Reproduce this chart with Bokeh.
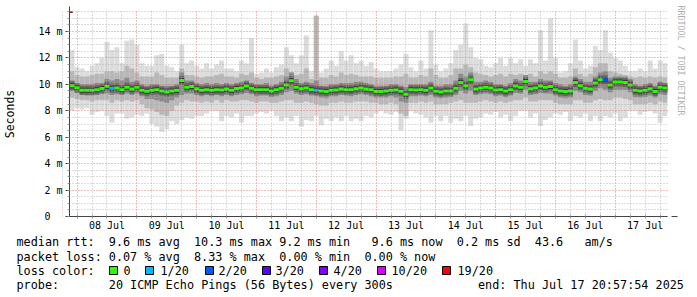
import numpy as np
import pandas as pd
from bokeh.plotting import figure
from bokeh.layouts import column
from bokeh.models import (Range1d, FixedTicker, DatetimeTickFormatter, Title,
                          Arrow, NormalHead, ColumnDataSource)
from bokeh.core.properties import value
from bokeh.embed import file_html
from bokeh.resources import INLINE

# ------------------------------------------------------------------ data
END_TIME = "2025-07-17 20:57:54"
FIRST_BIN = "2025-07-07 21:00"
BIN_HOURS = 2

median_ms = [
    9.9, 9.75, 9.56, 9.56, 9.56, 9.6, 9.68, 9.85, 9.7, 9.72,
    9.6, 9.78, 9.65, 9.78, 9.56, 9.48, 9.56, 9.6, 9.5, 9.43,
    9.5, 9.56, 10.3, 9.78, 9.83, 9.66, 9.56, 9.6, 9.56, 9.6,
    9.58, 9.65, 9.56, 9.68, 9.72, 9.87, 9.7, 9.6, 9.6, 9.6,
    9.5, 9.6, 9.7, 9.95, 10.27, 9.78, 9.67, 9.72, 9.6, 9.56,
    9.5, 9.46, 9.56, 9.58, 9.65, 9.6, 9.6, 9.66, 9.72, 9.65,
    9.6, 9.46, 9.46, 9.5, 9.56, 9.58, 9.48, 9.26, 9.6, 9.58,
    9.6, 9.56, 9.72, 9.48, 9.43, 9.5, 9.5, 9.7, 10.15, 9.9,
    10.35, 9.65, 9.72, 9.78, 9.72, 9.58, 9.6, 9.5, 9.6, 9.87,
    9.78, 10.22, 9.67, 9.72, 9.87, 9.78, 9.83, 9.6, 9.5, 9.46,
    9.5, 10.15, 9.9, 9.7, 9.65, 10.1, 10.35, 10.35, 9.95, 10.17,
    10.17, 10.15, 9.95, 9.56, 9.5, 9.56, 9.66, 9.46, 9.78, 9.72,
]
max_ms = [
    12.6, 11.3, 11.2, 11.0, 11.4, 11.6, 12.0, 13.2, 12.6, 12.8,
    11.6, 13.3, 13.4, 13.0, 11.6, 11.4, 11.4, 12.2, 12.3, 11.4,
    11.3, 11.0, 13.0, 11.6, 11.8, 11.4, 11.2, 11.6, 11.2, 11.5,
    11.8, 11.2, 11.2, 11.0, 11.8, 11.6, 13.5, 10.8, 10.9, 11.2,
    10.9, 11.3, 11.5, 12.8, 12.2, 11.6, 12.2, 13.7, 11.0, 15.2,
    10.9, 11.2, 11.8, 11.4, 12.5, 11.8, 12.2, 11.6, 11.8, 11.4,
    11.7, 11.2, 11.0, 11.0, 11.0, 11.2, 11.5, 12.3, 11.3, 11.0,
    11.8, 11.2, 14.1, 11.5, 11.0, 11.2, 11.6, 12.6, 13.0, 14.6,
    12.8, 12.0, 11.9, 11.4, 11.3, 11.6, 12.0, 11.4, 12.0, 11.6,
    11.9, 11.4, 11.9, 11.6, 14.1, 11.8, 15.0, 12.0, 10.9, 11.0,
    11.6, 13.4, 11.8, 11.2, 11.4, 12.9, 12.6, 14.1, 12.4, 12.0,
    11.8, 11.4, 11.0, 11.0, 11.2, 11.0, 11.8, 11.2, 11.8, 11.6,
]
p90_ms = [
    11.0, 10.7, 10.6, 10.6, 10.7, 10.8, 10.8, 11.0, 11.0, 10.9,
    11.0, 11.4, 11.2, 10.9, 10.6, 10.6, 10.6, 10.9, 10.7, 10.5,
    10.5, 10.5, 11.2, 10.7, 10.7, 10.6, 10.5, 10.6, 10.6, 10.7,
    10.8, 10.6, 10.6, 10.5, 10.8, 10.7, 10.9, 10.5, 10.4, 10.5,
    10.5, 10.6, 10.7, 11.2, 10.9, 10.7, 10.8, 11.2, 10.4, 15.2,
    10.5, 10.5, 10.7, 10.6, 10.9, 10.7, 10.8, 10.7, 10.6, 10.6,
    10.6, 10.5, 10.5, 10.5, 10.5, 10.6, 10.6, 10.8, 10.5, 10.5,
    10.7, 10.6, 11.2, 10.7, 10.5, 10.5, 10.7, 11.2, 11.2, 11.5,
    11.3, 10.9, 10.8, 10.7, 10.6, 10.7, 10.8, 10.6, 10.8, 10.7,
    10.8, 10.7, 10.8, 10.6, 11.0, 10.8, 11.0, 10.8, 10.5, 10.5,
    10.6, 11.2, 10.8, 10.6, 10.8, 11.3, 11.6, 11.6, 11.0, 10.9,
    10.8, 10.7, 10.6, 10.5, 10.6, 10.5, 10.6, 10.5, 10.6, 10.5,
]
p75_ms = [
    10.3, 10.1, 10.0, 10.0, 10.0, 10.1, 10.1, 10.4, 10.3, 10.4,
    10.3, 10.5, 10.2, 10.3, 10.0, 9.9, 10.0, 10.0, 9.9, 9.9,
    9.9, 10.0, 10.9, 10.3, 10.3, 10.1, 10.0, 10.1, 10.0, 10.1,
    10.0, 10.1, 10.0, 10.1, 10.2, 10.3, 10.1, 10.0, 10.0, 10.1,
    9.9, 10.0, 10.2, 10.6, 10.9, 10.4, 10.1, 10.2, 10.1, 10.3,
    9.9, 9.9, 10.0, 10.0, 10.1, 10.1, 10.1, 10.2, 10.2, 10.1,
    10.0, 9.9, 9.9, 9.9, 10.0, 10.0, 9.9, 9.8, 10.0, 10.0,
    10.0, 10.0, 10.2, 9.9, 9.9, 10.0, 10.0, 10.3, 10.8, 10.6,
    10.9, 10.2, 10.2, 10.3, 10.2, 10.0, 10.0, 9.9, 10.1, 10.4,
    10.3, 10.7, 10.2, 10.2, 10.4, 10.3, 10.3, 10.1, 10.0, 9.9,
    10.0, 10.6, 10.4, 10.2, 10.2, 10.6, 10.9, 11.0, 10.5, 10.6,
    10.6, 10.6, 10.4, 10.0, 9.9, 10.0, 10.1, 9.9, 10.2, 10.1,
]
p25_ms = [
    9.5, 9.35, 9.2, 9.15, 9.15, 9.2, 9.25, 9.3, 9.2, 9.25,
    9.2, 9.3, 9.2, 9.3, 9.1, 8.9, 8.9, 8.8, 8.7, 8.6,
    8.8, 9.0, 9.2, 9.3, 9.3, 9.2, 9.1, 9.2, 9.1, 9.2,
    9.1, 9.2, 9.1, 9.2, 9.25, 9.35, 9.25, 9.1, 9.15, 9.15,
    9.05, 9.1, 9.2, 9.4, 9.5, 9.3, 9.2, 9.25, 9.15, 9.1,
    9.0, 8.95, 9.1, 9.1, 9.2, 9.15, 9.1, 9.2, 9.25, 9.2,
    9.1, 9.0, 9.0, 9.0, 9.1, 9.0, 8.7, 8.6, 9.1, 9.1,
    9.15, 9.1, 9.2, 9.0, 8.95, 9.0, 9.05, 9.2, 9.5, 9.3,
    9.5, 9.2, 9.25, 9.3, 9.25, 9.1, 9.15, 9.05, 9.15, 9.35,
    9.3, 9.6, 9.2, 9.25, 9.35, 9.3, 9.3, 9.15, 9.0, 8.95,
    9.0, 9.5, 9.4, 9.2, 9.15, 9.5, 9.7, 9.6, 9.4, 9.6,
    9.6, 9.6, 9.4, 9.05, 9.0, 9.05, 9.15, 9.0, 9.25, 9.2,
]
p10_ms = [
    9.0, 8.9, 8.8, 8.8, 8.7, 8.8, 8.8, 8.8, 8.6, 8.8,
    8.7, 8.8, 8.7, 8.8, 8.5, 8.2, 8.1, 7.9, 7.7, 7.6,
    8.0, 8.4, 8.6, 8.8, 8.7, 8.7, 8.6, 8.7, 8.6, 8.8,
    8.6, 8.8, 8.7, 8.7, 8.8, 8.8, 8.7, 8.6, 8.7, 8.7,
    8.6, 8.6, 8.7, 8.8, 8.8, 8.6, 8.6, 8.7, 8.6, 8.5,
    8.4, 8.4, 8.6, 8.6, 8.7, 8.6, 8.6, 8.7, 8.7, 8.7,
    8.6, 8.6, 8.5, 8.5, 8.6, 8.5, 7.8, 7.6, 8.6, 8.6,
    8.7, 8.6, 8.7, 8.5, 8.5, 8.5, 8.6, 8.7, 8.8, 8.6,
    8.6, 8.6, 8.7, 8.8, 8.7, 8.6, 8.7, 8.6, 8.7, 8.8,
    8.8, 9.0, 8.7, 8.7, 8.8, 8.8, 8.8, 8.6, 8.5, 8.5,
    8.5, 8.8, 8.8, 8.6, 8.6, 8.8, 8.9, 8.8, 8.8, 9.0,
    9.0, 8.9, 8.8, 8.5, 8.5, 8.5, 8.6, 8.5, 8.7, 8.6,
]
min_ms = [
    8.0, 8.2, 8.1, 8.2, 7.7, 7.9, 8.0, 7.6, 7.1, 7.8,
    7.8, 7.4, 7.5, 7.7, 7.6, 7.8, 7.0, 6.8, 6.4, 6.6,
    7.2, 7.0, 7.3, 7.5, 7.4, 7.6, 7.6, 7.8, 8.0, 8.0,
    7.2, 7.6, 7.5, 7.8, 7.1, 7.6, 7.6, 7.8, 7.9, 7.8,
    8.0, 7.6, 7.2, 7.5, 7.2, 7.6, 6.8, 7.3, 7.2, 7.6,
    6.9, 7.4, 7.2, 7.5, 7.2, 7.6, 7.2, 7.4, 7.2, 7.6,
    7.5, 7.8, 8.0, 7.8, 7.7, 7.9, 6.5, 7.4, 8.0, 7.8,
    7.7, 7.5, 7.1, 7.6, 7.2, 7.6, 7.1, 7.4, 7.2, 7.6,
    6.85, 7.4, 7.5, 7.8, 7.7, 7.9, 7.5, 7.7, 7.2, 7.6,
    8.0, 8.0, 7.5, 7.8, 6.85, 7.3, 7.5, 7.8, 7.7, 7.9,
    7.2, 7.6, 7.5, 7.8, 7.2, 7.6, 7.2, 7.6, 7.5, 7.8,
    7.2, 7.5, 8.0, 8.0, 7.7, 7.9, 8.0, 7.8, 7.1, 7.6,
]
loss_count = [
    0, 0, 0, 0, 0, 0, 0, 0, 1, 0,
    0, 0, 0, 0, 0, 0, 0, 0, 0, 0,
    0, 0, 0, 0, 0, 0, 0, 0, 0, 0,
    0, 0, 0, 0, 0, 0, 0, 0, 0, 0,
    0, 0, 0, 0, 0, 0, 0, 0, 0, 1,
    0, 0, 0, 0, 0, 0, 0, 0, 0, 0,
    0, 0, 0, 0, 0, 0, 0, 0, 0, 0,
    0, 0, 0, 0, 0, 0, 0, 0, 0, 0,
    0, 0, 0, 0, 0, 0, 0, 0, 0, 0,
    0, 0, 0, 0, 0, 0, 0, 0, 0, 0,
    0, 0, 0, 0, 0, 0, 0, 2, 0, 0,
    0, 0, 0, 0, 0, 0, 0, 0, 0, 0,
]

y_tick_values = [0, 2, 4, 6, 8, 10, 12, 14]
y_tick_labels = ["0\u00a0\u00a0", "2 m", "4 m", "6 m", "8 m", "10 m", "12 m", "14 m"]

loss_levels = [0, 1, 2, 3, 4, 10, 19]
loss_labels = ["0", "1/20", "2/20", "3/20", "4/20", "10/20", "19/20"]
loss_colors = ["#26ff00", "#00b8ff", "#0059ff", "#5e00ff", "#7e00ff", "#dd00ff", "#ff0000"]

legend_line1 = [(0, "median rtt:"), (13, "9.6 ms avg"), (25, "10.3 ms max"), (37, "9.2 ms min"),
                (50, "9.6 ms now"), (62, "0.2 ms sd"), (73, "43.6"), (80, "am/s")]
legend_line2 = [(0, "packet loss:"), (13, "0.07 % avg"), (25, "8.33 % max"), (37, "0.00 % min"),
                (49, "0.00 % now")]
legend_line3 = [(0, "loss color:")]
legend_line4 = [(0, "probe:"), (13, "20 ICMP Echo Pings (56 Bytes) every 300s"),
                (65, "end: Thu Jul 17 20:57:54 2025")]
watermark = "RRDTOOL / TOBI OETIKER"
y_axis_title = "Seconds"

# ------------------------------------------------------------------ layout constants
W, H = 697, 297
MAIN_H = 233                                 # main figure height, legend strip below
FL, FR, FT, FB = 67, 667, 11, 216            # frame edges in canvas px
MONO = "DejaVu Sans Mono"
CHAR_W = 7.1
TEXT_X0 = 16

end_ts = pd.Timestamp(END_TIME)
start_ts = end_ts - pd.Timedelta(days=10)


def to_ms(ts):
    return ts.value / 1e6


bins = pd.date_range(FIRST_BIN, periods=len(median_ms), freq=f"{BIN_HOURS}h")
left = np.array([to_ms(b) for b in bins])
right = left + BIN_HOURS * 3600e3
center = (left + right) / 2


def loss_color(n):
    c = loss_colors[0]
    for lvl, col in zip(loss_levels, loss_colors):
        if n >= lvl:
            c = col
    return c


src = ColumnDataSource(dict(
    left=left, right=right, x=center,
    med=median_ms, mx=max_ms, p90=p90_ms, p75=p75_ms, p25=p25_ms, p10=p10_ms, mn=min_ms,
    col=[loss_color(n) for n in loss_count],
))

y_top = (FB - FT) / ((FB - 31) / 14.0)

p = figure(width=W, height=MAIN_H, output_backend="svg", toolbar_location=None,
           x_axis_type="datetime",
           x_range=Range1d(to_ms(start_ts), to_ms(end_ts)),
           y_range=Range1d(0, y_top))
p.min_border_left = FL
p.min_border_right = W - FR
p.min_border_top = FT
p.min_border_bottom = MAIN_H - FB
p.outline_line_color = None
p.background_fill_color = "white"
p.border_fill_color = "white"

# smoke
p.quad(left="left", right="right", bottom="mn", top="mx", source=src,
       fill_color="#dcdcdc", line_color=None)
p.quad(left="left", right="right", bottom="p10", top="p90", source=src,
       fill_color="#b8b8b8", line_color=None)
p.quad(left="left", right="right", bottom="p25", top="p75", source=src,
       fill_color="#8a8a8a", line_color=None)
p.rect(x="x", y="med", width=BIN_HOURS * 3600e3, height=9, height_units="screen",
       source=src, fill_color="#666666", line_color=None)
p.rect(x="x", y="med", width=BIN_HOURS * 3600e3, height=5, height_units="screen",
       source=src, fill_color="#383838", line_color=None)
# median coloured by loss
p.rect(x="x", y="med", width=BIN_HOURS * 3600e3, height=3, height_units="screen",
       source=src, fill_color="col", line_color=None)

# ticks / grid
day0 = pd.Timestamp(start_ts.date()) + pd.Timedelta(days=1)
midnights = [to_ms(day0 + pd.Timedelta(days=d)) for d in range(10)]
noons = [to_ms(day0 + pd.Timedelta(days=d, hours=12)) for d in range(10)]
six_h_all = [to_ms(day0 + pd.Timedelta(hours=6 * k)) for k in range(-1, 40)]
six_h_minor = [t for t in six_h_all if t not in midnights]

xax = p.xaxis[0]
xax.ticker = FixedTicker(ticks=noons, minor_ticks=six_h_all)
xax.formatter = DatetimeTickFormatter(hours="%d %b", days="%d %b", months="%d %b",
                                      hourmin="%d %b", minutes="%d %b")
xax.major_tick_out = 0
xax.major_tick_in = 0
xax.minor_tick_out = 2
xax.minor_tick_in = 2
xax.minor_tick_line_color = "#999999"
xax.major_label_standoff = 1
xax.major_label_text_font = MONO
xax.major_label_text_font_size = "10px"
xax.major_label_text_color = "black"
xax.axis_line_color = "#444444"

y_minor_all = [k * 0.5 for k in range(0, 32)]
yax = p.yaxis[0]
yax.ticker = FixedTicker(ticks=y_tick_values, minor_ticks=y_minor_all)
yax.major_label_overrides = {v: s for v, s in zip(y_tick_values, y_tick_labels)}
yax.major_tick_out = 4
yax.major_tick_in = 0
yax.minor_tick_out = 2
yax.minor_tick_in = 0
yax.major_tick_line_color = "#444444"
yax.minor_tick_line_color = "#999999"
yax.major_label_standoff = 3
yax.major_label_text_font = MONO
yax.major_label_text_font_size = "10px"
yax.major_label_text_color = "black"
yax.axis_line_color = "#444444"
yax.axis_label = y_axis_title
yax.axis_label_text_font = MONO
yax.axis_label_text_font_size = "11.5px"
yax.axis_label_text_font_style = "normal"
yax.axis_label_text_color = "black"
yax.axis_label_standoff = 18

p.xgrid.ticker = FixedTicker(ticks=midnights, minor_ticks=six_h_minor)
p.ygrid.ticker = FixedTicker(ticks=y_tick_values,
                             minor_ticks=[v for v in y_minor_all if v not in y_tick_values])
for g in (p.xgrid[0], p.ygrid[0]):
    g.level = "annotation"
    g.grid_line_color = "#e07070"
    g.grid_line_dash = "1 2"
    g.grid_line_alpha = 0.9
    g.minor_grid_line_color = "#aaaaaa"
    g.minor_grid_line_dash = "1 2"
    g.minor_grid_line_alpha = 0.8

# axis arrows
arrow_col = "#8b1a1a"
p.add_layout(Arrow(x_start=-5, y_start=0, x_end=FR - FL + 8, y_end=0,
                   start_units="screen", end_units="screen",
                   line_color="#444444", line_width=1,
                   end=NormalHead(size=6, fill_color=arrow_col, line_color=arrow_col)))
p.add_layout(Arrow(x_start=0, y_start=-4, x_end=0, y_end=FB - 6,
                   start_units="screen", end_units="screen",
                   line_color="#444444", line_width=1,
                   end=NormalHead(size=6, fill_color=arrow_col, line_color=arrow_col)))

# watermark on the right side (a thin blank spacer title pushes it away from the frame)
spacer = Title(text="\u00a0", text_font=MONO, text_font_size="5px", text_color="white")
wm = Title(text=watermark, align="left", text_font=MONO,
           text_font_size="8.3px", text_font_style="normal", text_color="#b0b0b0",
           offset=-6)
for t_ in (spacer, wm):
    try:
        t_.standoff = 0
    except Exception:
        pass
p.add_layout(spacer, "right")
p.add_layout(wm, "right")

# ------------------------------------------------------------------ legend strip
LEG_H = H - MAIN_H
q = figure(width=W, height=LEG_H, output_backend="svg", toolbar_location=None,
           x_range=Range1d(0, W), y_range=Range1d(H, MAIN_H),
           x_axis_location=None, y_axis_location=None, min_border=0)
q.outline_line_color = None
q.xgrid.visible = False
q.ygrid.visible = False
q.background_fill_color = "white"
q.border_fill_color = "white"
for fig in (p, q):
    try:
        fig.frame_align = False
    except Exception:
        pass

line_y = [241, 256, 270, 284]
tx, ty, tt = [], [], []
for ly, items in zip(line_y, [legend_line1, legend_line2, legend_line3, legend_line4]):
    for idx, s in items:
        tx.append(TEXT_X0 + idx * CHAR_W)
        ty.append(ly)
        tt.append(s)

box_x = [109, 145, 205, 262, 319, 377, 442]
lab_x = [123, 160, 218, 275, 333, 391, 457]
for lx, lab in zip(lab_x, loss_labels):
    tx.append(lx)
    ty.append(line_y[2])
    tt.append(lab)

q.text(x=tx, y=ty, text=tt, text_font=value(MONO), text_font_size="11.8px",
       text_baseline="middle", text_align="left", text_color="black")
q.quad(left=box_x, right=[b + 8 for b in box_x],
       top=[line_y[2] - 4] * len(box_x), bottom=[line_y[2] + 4] * len(box_x),
       fill_color=loss_colors, line_color="black", line_width=1)

layout = column(p, q, spacing=0)
open("out.html", "w").write(file_html(layout, INLINE))
